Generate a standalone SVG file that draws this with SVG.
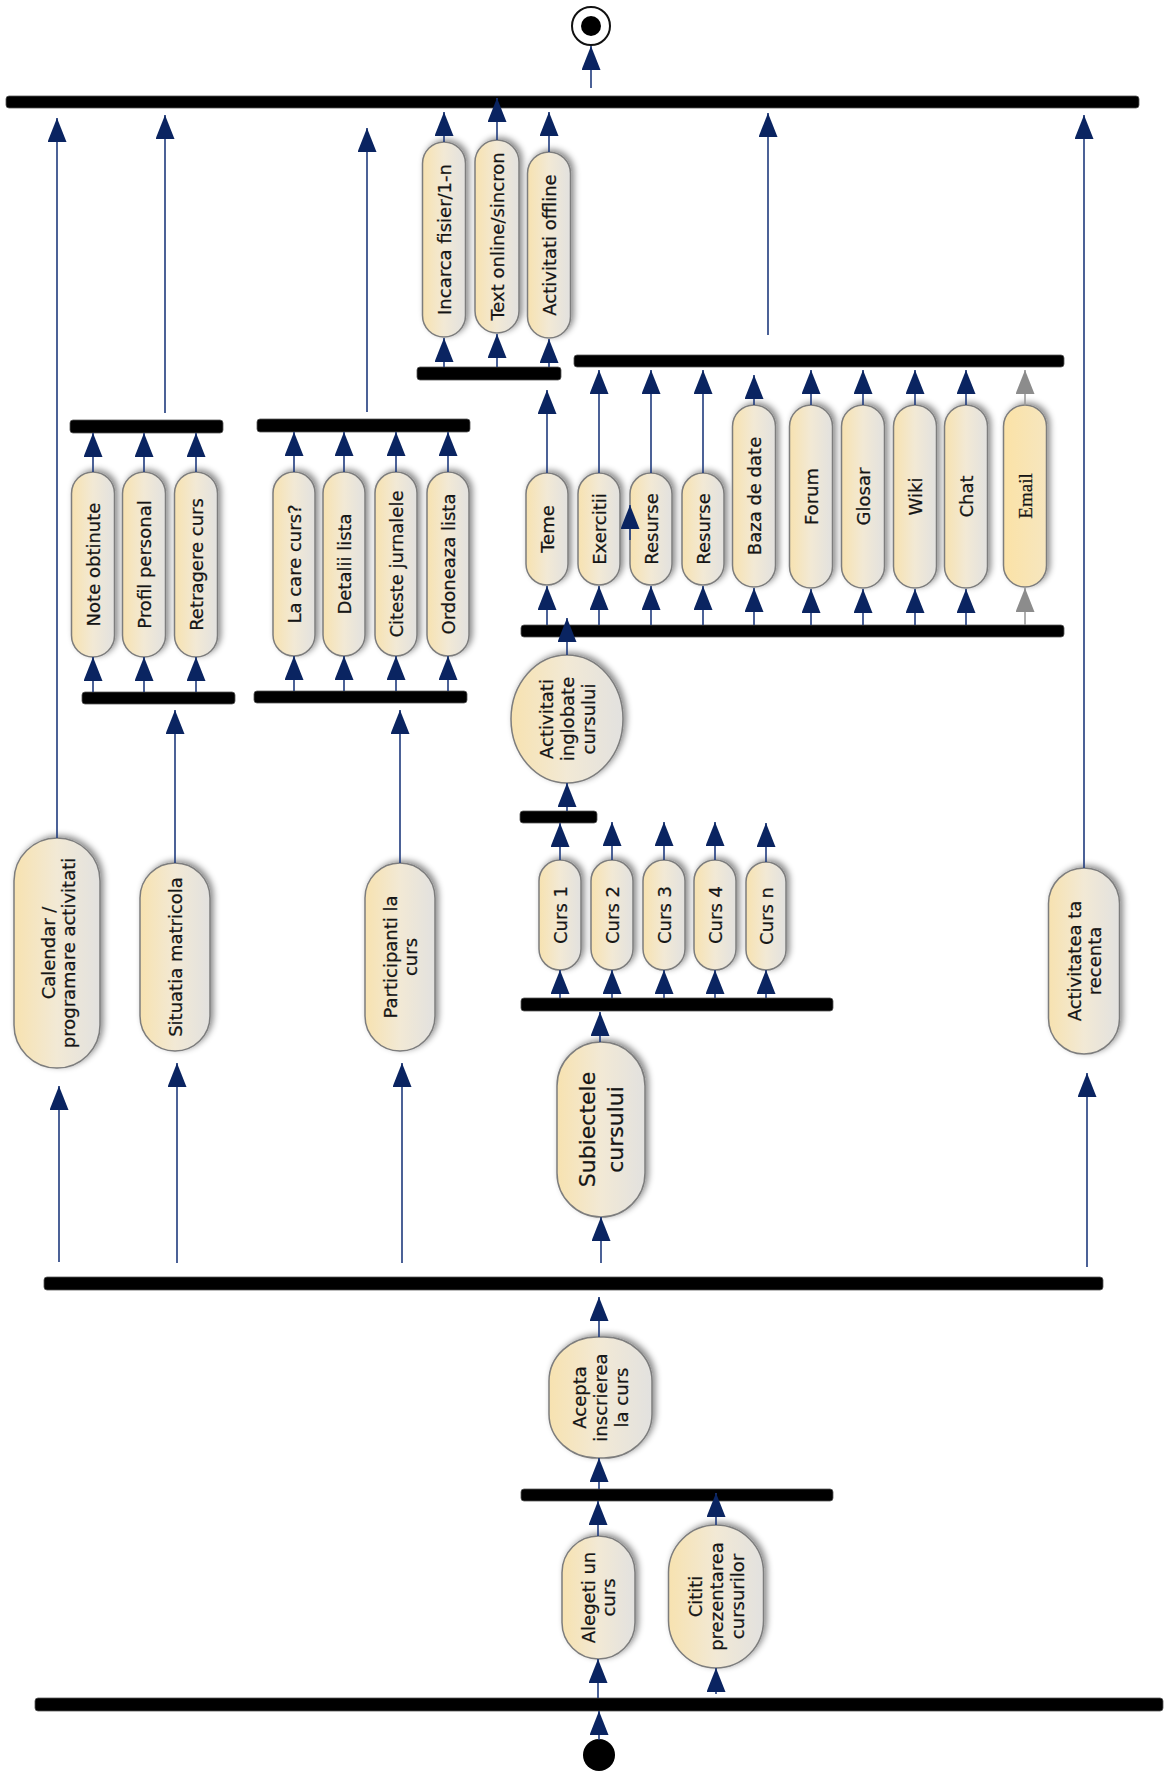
<svg xmlns="http://www.w3.org/2000/svg" width="1169" height="1771" viewBox="0 0 1169 1771">
  <style>
    .bar { fill: #000; stroke: #555; stroke-width: 0.8; }
    .pill { fill: url(#cream); stroke: #7d7d7d; stroke-width: 1.5; filter: url(#sh); }
    .pill-mail { fill: url(#mail); stroke: #7d7d7d; stroke-width: 1.5; filter: url(#sh); }
    .t { font-family: "DejaVu Sans", Verdana, sans-serif; font-size: 18px; fill: #151515; stroke: #151515; stroke-width: 0.25; text-anchor: middle; dominant-baseline: central; }
    .big { font-size: 22px; }
    .serif { font-family: "Liberation Serif", "Times New Roman", serif; font-size: 19px; }
    .c { stroke: #1f3a7d; stroke-width: 1.6; fill: none; marker-end: url(#ah); }
    .cg { stroke: #9a9a9a; stroke-width: 1.6; fill: none; marker-end: url(#ahg); }
  </style>
  <defs>
    <linearGradient id="cream" x1="0" y1="0" x2="1" y2="0">
      <stop offset="0" stop-color="#f7e2b0"/>
      <stop offset="0.5" stop-color="#f2e9d5"/>
      <stop offset="1" stop-color="#e2e1df"/>
    </linearGradient>
    <linearGradient id="mail" x1="0" y1="0" x2="1" y2="0">
      <stop offset="0" stop-color="#fbe2a6"/>
      <stop offset="1" stop-color="#f6e6bf"/>
    </linearGradient>
    <filter id="sh" x="-40%" y="-20%" width="180%" height="140%">
      <feDropShadow dx="3" dy="-2" stdDeviation="3" flood-color="#000" flood-opacity="0.45"/>
    </filter>
    <marker id="ah" viewBox="0 0 24 19" refX="24" refY="9.5" markerWidth="24" markerHeight="19" markerUnits="userSpaceOnUse" orient="auto">
      <path d="M0,0 L24,9.5 L0,19 z" fill="#0a2461"/>
    </marker>
    <marker id="ahg" viewBox="0 0 24 19" refX="24" refY="9.5" markerWidth="24" markerHeight="19" markerUnits="userSpaceOnUse" orient="auto">
      <path d="M0,0 L24,9.5 L0,19 z" fill="#8c8c8c"/>
    </marker>
  </defs>

  <rect width="1169" height="1771" fill="#fff"/>

  <!-- fork / join bars -->
  <g id="bars">
    <rect id="bar-final" class="bar" x="6" y="96" width="1133" height="12" rx="3"/>
    <rect id="bar-upload" class="bar" x="417" y="367" width="144" height="13" rx="3"/>
    <rect id="bar-act-join" class="bar" x="574" y="355" width="490" height="12" rx="3"/>
    <rect id="bar-act-fork" class="bar" x="521" y="625" width="543" height="12" rx="3"/>
    <rect id="bar-sit-join" class="bar" x="70" y="420" width="153" height="13" rx="3"/>
    <rect id="bar-sit-fork" class="bar" x="82" y="692" width="153" height="12" rx="3"/>
    <rect id="bar-part-join" class="bar" x="257" y="419" width="213" height="13" rx="3"/>
    <rect id="bar-part-fork" class="bar" x="254" y="691" width="213" height="12" rx="3"/>
    <rect id="bar-curs-join" class="bar" x="520" y="811" width="77" height="12" rx="3"/>
    <rect id="bar-curs-fork" class="bar" x="521" y="998" width="312" height="13" rx="3"/>
    <rect id="bar-main" class="bar" x="44" y="1277" width="1059" height="13" rx="3"/>
    <rect id="bar-enrol" class="bar" x="521" y="1489" width="312" height="12" rx="3"/>
    <rect id="bar-start" class="bar" x="35" y="1698" width="1128" height="13" rx="3"/>
  </g>

  <!-- start and end states -->
  <g id="final">
    <circle cx="591" cy="26" r="19" fill="#fff" stroke="#111" stroke-width="2"/>
    <circle cx="591" cy="26" r="10" fill="#000"/>
  </g>
  <g id="start">
    <circle cx="599" cy="1755" r="16" fill="#000"/>
  </g>

  <!-- activities -->
  <g id="n-incarca"><rect class="pill" x="422.5" y="142" width="43" height="195" rx="21.5"/><text class="t" transform="translate(444 239.5) rotate(-90)">Incarca fisier/1-n</text></g>
  <g id="n-textonline"><rect class="pill" x="475" y="140" width="44" height="193" rx="22"/><text class="t" transform="translate(497 236.5) rotate(-90)">Text online/sincron</text></g>
  <g id="n-offline"><rect class="pill" x="527.5" y="152" width="43" height="186" rx="21.5"/><text class="t" transform="translate(549 245) rotate(-90)">Activitati offline</text></g>

  <g id="n-note"><rect class="pill" x="71.5" y="472" width="43" height="185" rx="21.5"/><text class="t" transform="translate(93 564.5) rotate(-90)">Note obtinute</text></g>
  <g id="n-profil"><rect class="pill" x="122.5" y="472" width="43" height="185" rx="21.5"/><text class="t" transform="translate(144 564.5) rotate(-90)">Profil personal</text></g>
  <g id="n-retragere"><rect class="pill" x="174.5" y="472" width="43" height="185" rx="21.5"/><text class="t" transform="translate(196 564.5) rotate(-90)">Retragere curs</text></g>

  <g id="n-lacare"><rect class="pill" x="273" y="472" width="42" height="184" rx="21"/><text class="t" transform="translate(294 564) rotate(-90)">La care curs?</text></g>
  <g id="n-detalii"><rect class="pill" x="323" y="472" width="42" height="184" rx="21"/><text class="t" transform="translate(344 564) rotate(-90)">Detalii lista</text></g>
  <g id="n-citeste"><rect class="pill" x="375" y="472" width="42" height="184" rx="21"/><text class="t" transform="translate(396 564) rotate(-90)">Citeste jurnalele</text></g>
  <g id="n-ordoneaza"><rect class="pill" x="427" y="472" width="42" height="184" rx="21"/><text class="t" transform="translate(448 564) rotate(-90)">Ordoneaza lista</text></g>

  <g id="n-teme"><rect class="pill" x="526" y="473" width="42" height="112" rx="21"/><text class="t" transform="translate(547 529) rotate(-90)">Teme</text></g>
  <g id="n-exercitii"><rect class="pill" x="578" y="473" width="42" height="112" rx="21"/><text class="t" transform="translate(599 529) rotate(-90)">Exercitii</text></g>
  <g id="n-resurse1"><rect class="pill" x="630" y="473" width="42" height="112" rx="21"/><text class="t" transform="translate(651 529) rotate(-90)">Resurse</text></g>
  <g id="n-resurse2"><rect class="pill" x="682" y="473" width="42" height="112" rx="21"/><text class="t" transform="translate(703 529) rotate(-90)">Resurse</text></g>
  <g id="n-baza"><rect class="pill" x="732.5" y="405" width="43" height="182" rx="21.5"/><text class="t" transform="translate(754 496) rotate(-90)">Baza de date</text></g>
  <g id="n-forum"><rect class="pill" x="789.5" y="405" width="43" height="183" rx="21.5"/><text class="t" transform="translate(811 496.5) rotate(-90)">Forum</text></g>
  <g id="n-glosar"><rect class="pill" x="841.5" y="405" width="43" height="183" rx="21.5"/><text class="t" transform="translate(863 496.5) rotate(-90)">Glosar</text></g>
  <g id="n-wiki"><rect class="pill" x="893.5" y="405" width="43" height="183" rx="21.5"/><text class="t" transform="translate(915 496.5) rotate(-90)">Wiki</text></g>
  <g id="n-chat"><rect class="pill" x="944.5" y="405" width="43" height="183" rx="21.5"/><text class="t" transform="translate(966 496.5) rotate(-90)">Chat</text></g>
  <g id="n-email"><rect class="pill-mail" x="1003.5" y="405" width="43" height="182" rx="21.5"/><text class="t serif" transform="translate(1025 496) rotate(-90)">Email</text></g>

  <g id="n-activitati"><ellipse class="pill" cx="567" cy="719" rx="56" ry="64"/><text class="t" transform="translate(567 719) rotate(-90)"><tspan x="0" dy="-1.15em">Activitati</tspan><tspan x="0" dy="1.15em">inglobate</tspan><tspan x="0" dy="1.15em">cursului</tspan></text></g>

  <g id="n-curs1"><rect class="pill" x="539" y="860" width="42" height="110" rx="21"/><text class="t" transform="translate(560 915) rotate(-90)">Curs 1</text></g>
  <g id="n-curs2"><rect class="pill" x="591" y="860" width="42" height="110" rx="21"/><text class="t" transform="translate(612 915) rotate(-90)">Curs 2</text></g>
  <g id="n-curs3"><rect class="pill" x="643" y="860" width="42" height="110" rx="21"/><text class="t" transform="translate(664 915) rotate(-90)">Curs 3</text></g>
  <g id="n-curs4"><rect class="pill" x="694" y="860" width="42" height="110" rx="21"/><text class="t" transform="translate(715 915) rotate(-90)">Curs 4</text></g>
  <g id="n-cursn"><rect class="pill" x="746" y="862" width="40" height="108" rx="20"/><text class="t" transform="translate(766 916) rotate(-90)">Curs n</text></g>

  <g id="n-subiectele"><rect class="pill" x="557" y="1042" width="88" height="175" rx="44"/><text class="t big" transform="translate(601 1129.5) rotate(-90)"><tspan x="0" dy="-0.65em">Subiectele</tspan><tspan x="0" dy="1.3em">cursului</tspan></text></g>

  <g id="n-calendar"><rect class="pill" x="14" y="838" width="86" height="230" rx="43"/><text class="t" transform="translate(58 953) rotate(-90)"><tspan x="0" dy="-0.58em">Calendar /</tspan><tspan x="0" dy="1.16em">programare activitati</tspan></text></g>
  <g id="n-situatia"><rect class="pill" x="140" y="863" width="70" height="188" rx="35"/><text class="t" transform="translate(175 957) rotate(-90)">Situatia matricola</text></g>
  <g id="n-participanti"><rect class="pill" x="365" y="863" width="70" height="188" rx="35"/><text class="t" transform="translate(400 957) rotate(-90)"><tspan x="0" dy="-0.58em">Participanti la</tspan><tspan x="0" dy="1.16em">curs</tspan></text></g>
  <g id="n-recenta"><rect class="pill" x="1048.5" y="868" width="71" height="186" rx="35.5"/><text class="t" transform="translate(1084 961) rotate(-90)"><tspan x="0" dy="-0.58em">Activitatea ta</tspan><tspan x="0" dy="1.16em">recenta</tspan></text></g>

  <g id="n-acepta"><rect class="pill" x="549" y="1337" width="103" height="121" rx="48" ry="44"/><text class="t" transform="translate(600 1397.5) rotate(-90)"><tspan x="0" dy="-1.15em">Acepta</tspan><tspan x="0" dy="1.15em">inscrierea</tspan><tspan x="0" dy="1.15em">la curs</tspan></text></g>
  <g id="n-alegeti"><rect class="pill" x="562" y="1536" width="73" height="123" rx="36.5"/><text class="t" transform="translate(598 1597.5) rotate(-90)"><tspan x="0" dy="-0.58em">Alegeti un</tspan><tspan x="0" dy="1.16em">curs</tspan></text></g>
  <g id="n-cititi"><rect class="pill" x="668.5" y="1525" width="95" height="143" rx="47.5"/><text class="t" transform="translate(716 1596.5) rotate(-90)"><tspan x="0" dy="-1.15em">Cititi</tspan><tspan x="0" dy="1.15em">prezentarea</tspan><tspan x="0" dy="1.15em">cursurilor</tspan></text></g>

  <!-- connectors (all flow upward), drawn over bars and nodes -->
  <g id="connectors">
    <line class="c" x1="591" y1="88" x2="591" y2="46"/>
    <line class="c" x1="57" y1="838" x2="57" y2="118"/>
    <line class="c" x1="165" y1="413" x2="165" y2="115"/>
    <line class="c" x1="367" y1="412" x2="367" y2="128"/>
    <line class="c" x1="444" y1="142" x2="444" y2="112"/>
    <line class="c" x1="497" y1="140" x2="497" y2="98"/>
    <line class="c" x1="549" y1="152" x2="549" y2="112"/>
    <line class="c" x1="768" y1="335" x2="768" y2="113"/>
    <line class="c" x1="1084" y1="868" x2="1084" y2="115"/>

    <line class="c" x1="444" y1="367" x2="444" y2="338"/>
    <line class="c" x1="497" y1="367" x2="497" y2="334"/>
    <line class="c" x1="549" y1="367" x2="549" y2="339"/>
    <line class="c" x1="547" y1="473" x2="547" y2="390"/>

    <line class="c" x1="599" y1="473" x2="599" y2="370"/>
    <line class="c" x1="651" y1="473" x2="651" y2="370"/>
    <line class="c" x1="703" y1="473" x2="703" y2="370"/>
    <line class="c" x1="754" y1="405" x2="754" y2="375"/>
    <line class="c" x1="811" y1="405" x2="811" y2="370"/>
    <line class="c" x1="863" y1="405" x2="863" y2="370"/>
    <line class="c" x1="915" y1="405" x2="915" y2="370"/>
    <line class="c" x1="966" y1="405" x2="966" y2="370"/>
    <line class="cg" x1="1025" y1="405" x2="1025" y2="370"/>

    <line class="c" x1="547" y1="625" x2="547" y2="586"/>
    <line class="c" x1="599" y1="625" x2="599" y2="586"/>
    <line class="c" x1="651" y1="625" x2="651" y2="586"/>
    <line class="c" x1="703" y1="625" x2="703" y2="586"/>
    <line class="c" x1="754" y1="625" x2="754" y2="588"/>
    <line class="c" x1="811" y1="625" x2="811" y2="589"/>
    <line class="c" x1="863" y1="625" x2="863" y2="589"/>
    <line class="c" x1="915" y1="625" x2="915" y2="589"/>
    <line class="c" x1="966" y1="625" x2="966" y2="589"/>
    <line class="cg" x1="1025" y1="625" x2="1025" y2="588"/>
    <line class="c" x1="630" y1="540" x2="630" y2="505"/>

    <line class="c" x1="567" y1="655" x2="567" y2="618"/>
    <line class="c" x1="567" y1="811" x2="567" y2="783"/>

    <line class="c" x1="93" y1="472" x2="93" y2="433"/>
    <line class="c" x1="144" y1="472" x2="144" y2="433"/>
    <line class="c" x1="196" y1="472" x2="196" y2="433"/>
    <line class="c" x1="93" y1="692" x2="93" y2="657"/>
    <line class="c" x1="144" y1="692" x2="144" y2="657"/>
    <line class="c" x1="196" y1="692" x2="196" y2="657"/>

    <line class="c" x1="294" y1="472" x2="294" y2="432"/>
    <line class="c" x1="344" y1="472" x2="344" y2="432"/>
    <line class="c" x1="396" y1="472" x2="396" y2="432"/>
    <line class="c" x1="448" y1="472" x2="448" y2="432"/>
    <line class="c" x1="294" y1="691" x2="294" y2="656"/>
    <line class="c" x1="344" y1="691" x2="344" y2="656"/>
    <line class="c" x1="396" y1="691" x2="396" y2="656"/>
    <line class="c" x1="448" y1="691" x2="448" y2="656"/>

    <line class="c" x1="175" y1="863" x2="175" y2="710"/>
    <line class="c" x1="400" y1="863" x2="400" y2="710"/>

    <line class="c" x1="560" y1="860" x2="560" y2="823"/>
    <line class="c" x1="612" y1="860" x2="612" y2="822"/>
    <line class="c" x1="664" y1="860" x2="664" y2="822"/>
    <line class="c" x1="715" y1="860" x2="715" y2="822"/>
    <line class="c" x1="766" y1="862" x2="766" y2="823"/>
    <line class="c" x1="560" y1="998" x2="560" y2="970"/>
    <line class="c" x1="612" y1="998" x2="612" y2="970"/>
    <line class="c" x1="664" y1="998" x2="664" y2="970"/>
    <line class="c" x1="715" y1="998" x2="715" y2="970"/>
    <line class="c" x1="766" y1="998" x2="766" y2="970"/>

    <line class="c" x1="600" y1="1042" x2="600" y2="1012"/>
    <line class="c" x1="601" y1="1263" x2="601" y2="1217"/>
    <line class="c" x1="59" y1="1262" x2="59" y2="1086"/>
    <line class="c" x1="177" y1="1263" x2="177" y2="1063"/>
    <line class="c" x1="402" y1="1263" x2="402" y2="1063"/>
    <line class="c" x1="1087" y1="1267" x2="1087" y2="1073"/>

    <line class="c" x1="599" y1="1337" x2="599" y2="1297"/>
    <line class="c" x1="599" y1="1489" x2="599" y2="1458"/>
    <line class="c" x1="598" y1="1536" x2="598" y2="1501"/>
    <line class="c" x1="716" y1="1525" x2="716" y2="1493"/>
    <line class="c" x1="598" y1="1698" x2="598" y2="1659"/>
    <line class="c" x1="716" y1="1694" x2="716" y2="1668"/>
    <line class="c" x1="599" y1="1740" x2="599" y2="1711"/>
  </g>
</svg>
